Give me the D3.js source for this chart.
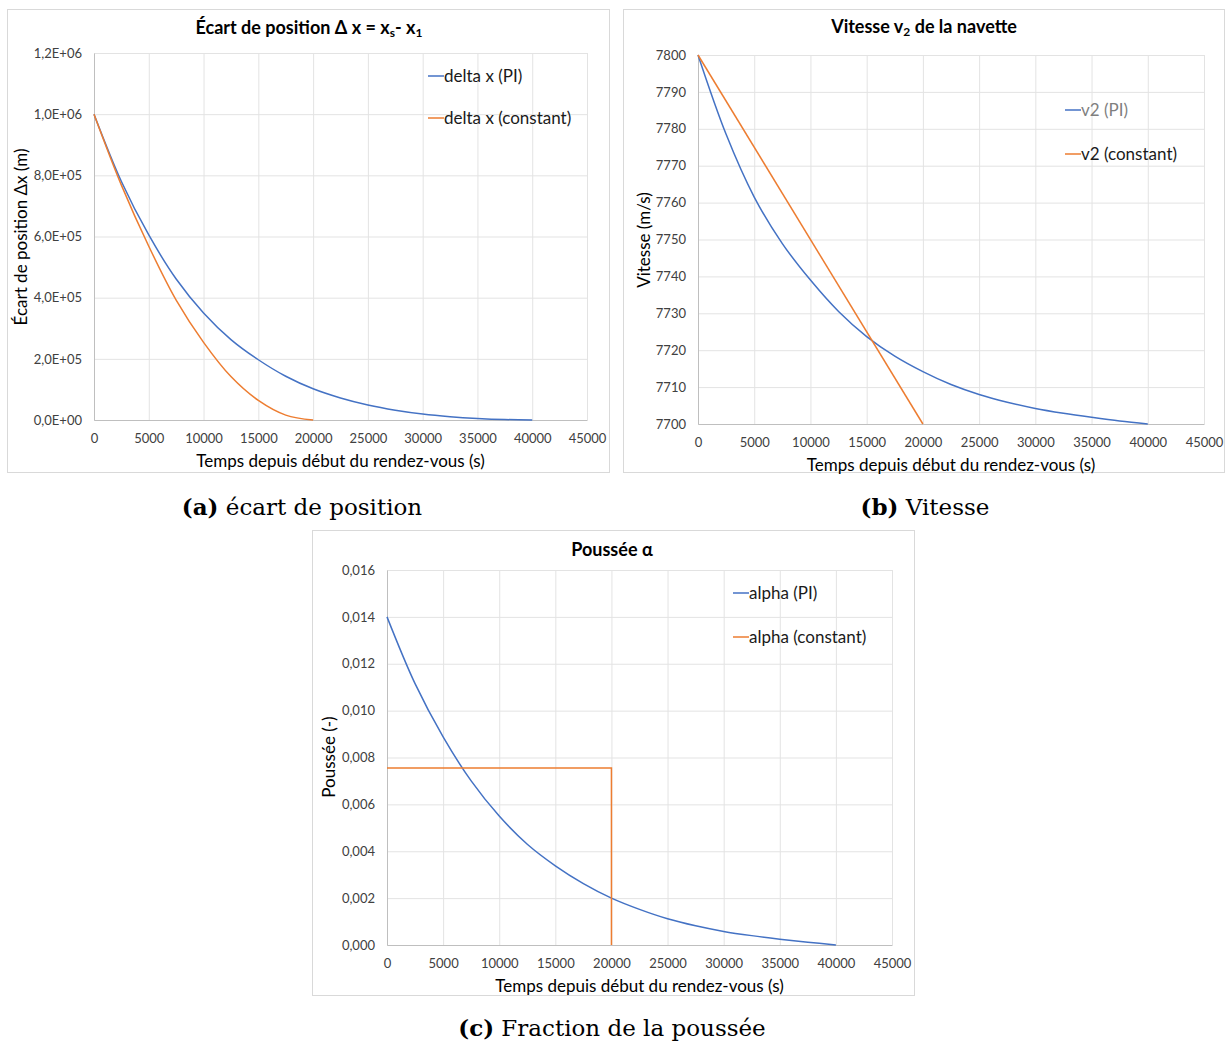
<!DOCTYPE html>
<html>
<head>
<meta charset="utf-8">
<script src="https://cdn.jsdelivr.net/npm/d3@7"></script>
<style>
  body { margin: 0; background: #fff; }
  svg { display: block; font-family: Lato, "Open Sans", sans-serif; }
</style>
</head>
<body>
<div id="graph-container"></div>
<script>
// Time samples (s)
const timesPI = [0, 2500, 5000, 7500, 10000, 12500, 15000, 17500, 20000,
                 22500, 25000, 27500, 30000, 32500, 35000, 37500, 40000];
const timesConst = [0, 2500, 5000, 7500, 10000, 12500, 15000, 17500, 20000];

// (a) position gap (m)
const deltaPI = [1000000, 780000, 605000, 461000, 350000, 263000, 197000, 143000, 102000,
                 72000, 49000, 32000, 19500, 11000, 5200, 1500, 0];
const deltaConst = [1000000, 768000, 568000, 392000, 254000, 142000, 64000, 16000, 0];

// (b) velocity v2 (m/s)
const v2PI = [7800, 7778.5, 7761.5, 7748.9, 7739, 7730.5, 7723.7, 7718.4, 7714.2,
              7710.7, 7708, 7705.9, 7704.2, 7702.9, 7701.8, 7700.8, 7700];
const v2ConstT = [0, 20000];
const v2Const = [7800, 7700];

// (c) thrust fraction alpha
const alphaPI = [0.0140, 0.01115, 0.00888, 0.0070, 0.0055, 0.0043, 0.00338, 0.00262, 0.0020,
                 0.00152, 0.00112, 0.00082, 0.00058, 0.0004, 0.00025, 0.00012, 0];
const alphaConstT = [0, 20000, 20000];
const alphaConst = [0.00755, 0.00755, 0];

// ticks
const xTicks = [0, 5000, 10000, 15000, 20000, 25000, 30000, 35000, 40000, 45000];
const deltaTicks = [0, 200000, 400000, 600000, 800000, 1000000, 1200000];
const v2Ticks = [7700, 7710, 7720, 7730, 7740, 7750, 7760, 7770, 7780, 7790, 7800];
const alphaTicks = [0, 0.002, 0.004, 0.006, 0.008, 0.010, 0.012, 0.014, 0.016];

const BLUE = "#4472c4";
const ORANGE = "#ed7d31";

const svg = d3.select("#graph-container")
    .append("svg")
    .attr("width", 1225)
    .attr("height", 1042);

svg.append("rect").attr("width", 1225).attr("height", 1042).attr("fill", "#fff");

function sci(v) {
    if (v === 0) return "0,0E+00";
    const e = Math.floor(Math.log10(v) + 1e-9);
    const m = v / Math.pow(10, e);
    return m.toFixed(1).replace(".", ",") + "E+" + String(e).padStart(2, "0");
}

function drawChart(o) {
    const g = svg.append("g");

    // frame
    g.append("rect")
        .attr("x", o.box[0] + 0.5).attr("y", o.box[1] + 0.5)
        .attr("width", o.box[2] - o.box[0]).attr("height", o.box[3] - o.box[1])
        .attr("fill", "#fff").attr("stroke", "#d9d9d9");

    const x = d3.scaleLinear().domain([0, 45000]).range([o.plot[0], o.plot[2]]);
    const y = d3.scaleLinear().domain(o.yDomain).range([o.plot[3], o.plot[1]]);

    // grid
    g.append("g")
        .attr("transform", `translate(0,${o.plot[3]})`)
        .call(d3.axisBottom(x).tickValues(xTicks).tickSize(-(o.plot[3] - o.plot[1])).tickFormat(""))
        .call(s => s.select(".domain").remove())
        .call(s => s.selectAll("line").attr("stroke", "#e3e3e3"));
    g.append("g")
        .attr("transform", `translate(${o.plot[0]},0)`)
        .call(d3.axisLeft(y).tickValues(o.yTicks).tickSize(-(o.plot[2] - o.plot[0])).tickFormat(""))
        .call(s => s.select(".domain").remove())
        .call(s => s.selectAll("line").attr("stroke", "#e3e3e3"));

    // axes lines + labels
    const xa = g.append("g")
        .attr("transform", `translate(0,${o.plot[3]})`)
        .call(d3.axisBottom(x).tickValues(xTicks).tickSize(0).tickPadding(14).tickFormat(d => d));
    xa.select(".domain").attr("stroke", "#bfbfbf");
    xa.selectAll("text").attr("font-size", 13).attr("fill", "#404040").attr("font-family", "Lato, sans-serif");

    const ya = g.append("g")
        .attr("transform", `translate(${o.plot[0]},0)`)
        .call(d3.axisLeft(y).tickValues(o.yTicks).tickSize(0).tickPadding(o.yPad).tickFormat(o.yFormat));
    ya.select(".domain").attr("stroke", "#bfbfbf");
    ya.selectAll("text").attr("font-size", 13).attr("fill", "#404040").attr("font-family", "Lato, sans-serif");

    // series
    o.series.forEach(s => {
        const pts = s.t.map((t, i) => [t, s.v[i]]);
        g.append("path")
            .datum(pts)
            .attr("fill", "none")
            .attr("stroke", s.color)
            .attr("stroke-width", 1.5)
            .attr("d", d3.line().x(d => x(d[0])).y(d => y(d[1])).curve(s.curve || d3.curveCatmullRom.alpha(0.5)));
    });

    // legend
    o.series.forEach((s, i) => {
        const ly = o.legend[1] + i * o.legend[2];
        g.append("line")
            .attr("x1", o.legend[0]).attr("x2", o.legend[0] + 16)
            .attr("y1", ly).attr("y2", ly)
            .attr("stroke", s.color).attr("stroke-width", 1.5);
        g.append("text")
            .attr("x", o.legend[0] + 16).attr("y", ly + 6)
            .attr("font-size", 17).attr("fill", s.textColor || "#1a1a1a")
            .text(s.name);
    });

    // title
    const title = g.append("text")
        .attr("x", o.title[0]).attr("y", o.title[1])
        .attr("text-anchor", "middle")
        .attr("font-size", 18).attr("font-weight", "bold").attr("fill", "#000");
    o.titleParts.forEach(p => {
        const ts = title.append("tspan").text(p.t);
        if (p.sub) ts.attr("font-size", 12).attr("baseline-shift", "-25%");
    });

    // axis titles
    g.append("text")
        .attr("x", (o.plot[0] + o.plot[2]) / 2 + o.xTitleShift).attr("y", o.plot[3] + 47)
        .attr("text-anchor", "middle").attr("font-size", 17).attr("fill", "#000")
        .text("Temps depuis début du rendez-vous (s)");
    g.append("text")
        .attr("transform", `translate(${o.yTitle[0]},${o.yTitle[1]}) rotate(-90)`)
        .attr("text-anchor", "middle").attr("font-size", 17).attr("fill", "#000")
        .text(o.yLabel);

    // caption
    const cap = svg.append("text")
        .attr("x", o.caption[0]).attr("y", o.caption[1])
        .attr("text-anchor", "middle")
        .attr("font-family", "'DejaVu Serif', 'Liberation Serif', serif")
        .attr("font-size", 23).attr("fill", "#000");
    cap.append("tspan").attr("font-weight", "bold").text(o.captionParts[0]);
    cap.append("tspan").text(" " + o.captionParts[1]);
}

drawChart({
    box: [7, 9, 609, 472],
    plot: [94, 53, 587, 420],
    yDomain: [0, 1200000],
    yTicks: deltaTicks,
    yFormat: sci,
    yPad: 12,
    series: [
        { name: "delta x (PI)", t: timesPI, v: deltaPI, color: BLUE },
        { name: "delta x (constant)", t: timesConst, v: deltaConst, color: ORANGE }
    ],
    legend: [428, 76, 42],
    title: [309, 34],
    titleParts: [{ t: "Écart de position Δ x = x" }, { t: "s", sub: true }, { t: "- x" }, { t: "1", sub: true }],
    yLabel: "Écart de position Δx (m)",
    yTitle: [27, 237],
    xTitleShift: 0,
    caption: [302, 515],
    captionParts: ["(a)", "écart de position"]
});

drawChart({
    box: [623, 9, 1224, 472],
    plot: [698, 55, 1204, 424],
    yDomain: [7700, 7800],
    yTicks: v2Ticks,
    yFormat: d => d,
    yPad: 12,
    series: [
        { name: "v2 (PI)", t: timesPI, v: v2PI, color: BLUE, textColor: "#7f7f7f" },
        { name: "v2 (constant)", t: v2ConstT, v: v2Const, color: ORANGE, curve: d3.curveLinear }
    ],
    legend: [1065, 110, 44],
    title: [924, 33],
    titleParts: [{ t: "Vitesse v" }, { t: "2", sub: true }, { t: " de la navette" }],
    yLabel: "Vitesse (m/s)",
    yTitle: [650, 240],
    xTitleShift: 0,
    caption: [925, 515],
    captionParts: ["(b)", "Vitesse"]
});

drawChart({
    box: [312, 530, 914, 995],
    plot: [387, 570, 892, 945],
    yDomain: [0, 0.016],
    yTicks: alphaTicks,
    yFormat: d => d.toFixed(3).replace(".", ","),
    yPad: 12,
    series: [
        { name: "alpha (PI)", t: timesPI, v: alphaPI, color: BLUE },
        { name: "alpha (constant)", t: alphaConstT, v: alphaConst, color: ORANGE, curve: d3.curveLinear }
    ],
    legend: [733, 593, 44],
    title: [612, 556],
    titleParts: [{ t: "Poussée α" }],
    yLabel: "Poussée (-)",
    yTitle: [335, 757],
    xTitleShift: 0,
    caption: [612, 1036],
    captionParts: ["(c)", "Fraction de la poussée"]
});
</script>
</body>
</html>
